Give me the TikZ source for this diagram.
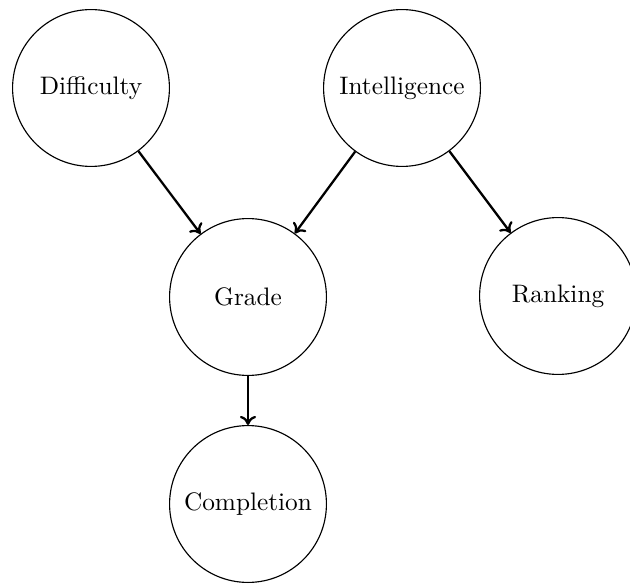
\documentclass[tikz,border=0pt]{standalone}
\usetikzlibrary{arrows.meta}
\begin{document}
\begin{tikzpicture}[x=0.3953pt,y=-0.3953pt,
  var/.style={circle,draw,line width=0.45pt,minimum size=62pt,inner sep=0pt},
  edge/.style={-{To[length=3.6pt,width=6.4pt]},line width=0.9pt}]
\useasboundingbox (0,0) rectangle (630,585);
\node[var] (dif) at (91,88) {Difficulty};
\node[var] (int) at (402,88) {Intelligence};
\node[var] (gra) at (248,297) {Grade};
\node[var] (ran) at (558,296) {Ranking};
\node[var] (com) at (248,504) {Completion};
\draw[edge] (dif) -- (gra);
\draw[edge] (int) -- (gra);
\draw[edge] (int) -- (ran);
\draw[edge] (gra) -- (com);
\end{tikzpicture}
\end{document}
